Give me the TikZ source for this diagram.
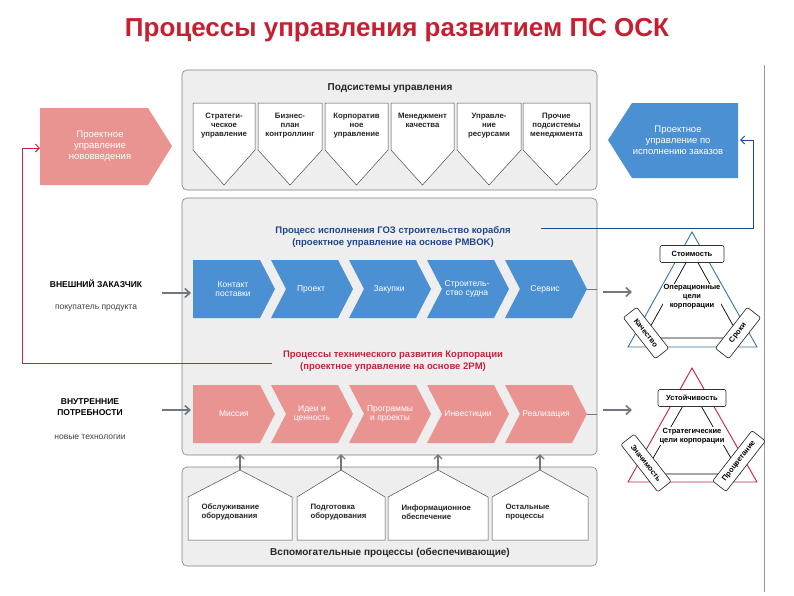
\documentclass[tikz,border=0pt]{standalone}
\usepackage{fontspec}
\setmainfont{Liberation Sans}
\usetikzlibrary{arrows.meta}
\definecolor{ttl}{RGB}{200,30,50}
\definecolor{bfill}{RGB}{74,144,210}
\definecolor{rfill}{RGB}{234,148,146}
\definecolor{dblue}{RGB}{30,70,140}
\definecolor{dred}{RGB}{195,35,60}
\definecolor{boxg}{RGB}{238,238,238}
\definecolor{edg}{RGB}{130,130,130}
\definecolor{arr}{RGB}{110,120,130}
\begin{document}
\begin{tikzpicture}[x=1pt,y=-1pt,
  panel/.style={draw=edg,fill=boxg,rounded corners=5pt,line width=0.6pt},
  wshape/.style={draw=black!70,fill=white,line width=0.5pt},
  lbl/.style={font=\fontsize{7.8}{9}\selectfont\bfseries,align=center,text=black!85},
  chtxt/.style={font=\fontsize{8.5}{9.5}\selectfont,align=center,text=white},
  garr/.style={draw=arr,line width=1.6pt,-{Straight Barb[length=5pt,width=9pt]}},
  tbox/.style={draw=black!80,fill=white,rounded corners=2pt,line width=0.7pt,font=\fontsize{7.5}{8.5}\selectfont\bfseries,minimum height=17pt,inner sep=2pt}]
\useasboundingbox (0,0) rectangle (794,595);
\fill[white] (0,0) rectangle (794,595);
\draw[black!40,line width=0.6pt] (764,65) -- (764,592);
\node[font=\fontsize{26}{30}\selectfont\bfseries,text=ttl] (title) at (397,30) {Процессы управления развитием ПС ОСК};

% top panel
\draw[panel] (182,70) rectangle (597,190);
\node[font=\fontsize{10}{12}\selectfont\bfseries,text=black!85] (ptop) at (390,88) {Подсистемы управления};
\foreach \l/\r/\t [count=\i] in {193/255/{Стратеги-\\ческое\\управление},258/322/{Бизнес-\\план\\контроллинг},325/388/{Корпоратив\\ное\\управление},391/454/{Менеджмент\\качества},457/521/{Управле-\\ние\\ресурсами},523/590/{Прочие\\подсистемы\\менеджмента}}{
  \draw[wshape] (\l,103) -- (\r,103) -- (\r,150) -- ({(\l+\r)/2},185) -- (\l,150) -- cycle;
  \node[lbl,anchor=north] (s\i) at ({(\l+\r)/2},110) {\t};
}

% side pentagons
\fill[rfill] (40,108) -- (148,108) -- (172,146) -- (148,185) -- (40,185) -- cycle;
\node[chtxt,font=\fontsize{9.5}{11}\selectfont] (lp) at (100,146) {Проектное\\управление\\нововведения};
\fill[bfill] (632,103) -- (738,103) -- (738,178) -- (632,178) -- (608,140) -- cycle;
\node[chtxt,font=\fontsize{9.5}{11}\selectfont] (rp) at (678,140) {Проектное\\управление по\\исполнению заказов};
\coordinate (lpin) at (40,148);
\coordinate (rpin) at (740,140);

% middle panel
\draw[panel] (182,198) rectangle (597,455);
\node[font=\fontsize{9.5}{12}\selectfont\bfseries,text=dblue,align=center] (btitle) at (393,237) {Процесс исполнения ГОЗ строительство корабля\\(проектное управление на основе PMBOK)};
\node[font=\fontsize{9.5}{12}\selectfont\bfseries,text=dred,align=center] (rtitle) at (393,361) {Процессы технического развития Корпорации\\(проектное управление на основе 2PM)};

\foreach \t [count=\i from 0] in {{Контакт\\поставки},Проект,Закупки,{Строитель-\\ство судна},Сервис}{
  \pgfmathsetmacro\L{193+78*\i}
  \ifnum\i=0
    \fill[bfill] (\L,260) -- (\L+67,260) -- (\L+82,289) -- (\L+67,318) -- (\L,318) -- cycle;
  \else
    \fill[bfill] (\L,260) -- (\L+67,260) -- (\L+82,289) -- (\L+67,318) -- (\L,318) -- (\L+15,289) -- cycle;
  \fi
  \node[chtxt] (b\i) at (\L+40,289) {\t};
}
\foreach \t [count=\i from 0] in {Миссия,{Идеи и\\ценность},{Программы\\и проекты},Инвестиции,Реализация}{
  \pgfmathsetmacro\L{193+78*\i}
  \ifnum\i=0
    \fill[rfill] (\L,385) -- (\L+67,385) -- (\L+82,414) -- (\L+67,443) -- (\L,443) -- cycle;
  \else
    \fill[rfill] (\L,385) -- (\L+67,385) -- (\L+82,414) -- (\L+67,443) -- (\L,443) -- (\L+15,414) -- cycle;
  \fi
  \node[chtxt] (r\i) at (\L+41,414) {\t};
}

% connector lines
\coordinate (bt) at (541,228);
\draw[dblue,line width=0.9pt,-{Straight Barb[length=4pt,width=8pt]}] (bt) -- (753,228) -- (753,140) -- (rpin);
\coordinate (rt) at (272,363);
\draw[dred,line width=0.9pt,-{Straight Barb[length=4pt,width=8pt]}] (rt) -- (22,363) -- (22,148) -- (lpin);

% left labels
\node[font=\fontsize{8.5}{10}\selectfont\bfseries] (ext) at (96,284) {ВНЕШНИЙ ЗАКАЗЧИК};
\node[font=\fontsize{8.5}{10}\selectfont,text=black!75] (ext2) at (96,308) {покупатель продукта};
\node[font=\fontsize{8.5}{10.5}\selectfont\bfseries,align=center] (int) at (90,407) {ВНУТРЕННИЕ\\ПОТРЕБНОСТИ};
\node[font=\fontsize{8.5}{10}\selectfont,text=black!75] (int2) at (90,437) {новые технологии};
\coordinate (a1s) at (162,293); \coordinate (a1e) at (191,293);
\coordinate (a2s) at (162,410); \coordinate (a2e) at (191,410);
\draw[garr] (a1s) -- (a1e);
\draw[garr] (a2s) -- (a2e);
\coordinate (a3s) at (603,292); \coordinate (a3e) at (632,292);
\coordinate (a4s) at (603,410); \coordinate (a4e) at (632,410);
\draw[garr] (a3s) -- (a3e);
\draw[garr] (a4s) -- (a4e);
\draw[arr,line width=1pt] (587,289) -- (597,289);
\draw[arr,line width=1pt] (587,414) -- (597,414);

% blue triangle
\draw[bfill!80!black,line width=0.9pt] (692,232) -- (757,347) -- (628,347) -- cycle;
\draw[black,line width=0.7pt] (692,252) -- (740,338) -- (644,338) -- cycle;
\node[tbox,minimum width=64pt] (cost) at (692,254) {Стоимость};
\node[font=\fontsize{7.5}{9}\selectfont\bfseries,align=center,fill=white,inner sep=1pt] (opc) at (692,297) {Операционные\\цели\\корпорации};
\node[tbox,minimum width=52pt,rotate=-52] (qual) at (646,333) {Качество};
\node[tbox,minimum width=52pt,rotate=52] (term) at (738,333) {Сроки};

% red triangle
\draw[dred,line width=0.9pt] (692,368) -- (757,482) -- (628,482) -- cycle;
\draw[black,line width=0.7pt] (692,390) -- (740,474) -- (644,474) -- cycle;
\node[tbox,minimum width=68pt] (sust) at (692,398) {Устойчивость};
\node[font=\fontsize{7.5}{9}\selectfont\bfseries,align=center,fill=white,inner sep=1pt] (stc) at (692,436) {Стратегические\\цели корпорации};
\node[tbox,minimum width=60pt,rotate=-52] (sig) at (646,463) {Значимость};
\node[tbox,minimum width=64pt,rotate=52] (pros) at (739,461) {Процветание};

% bottom panel
\draw[panel] (182,467) rectangle (597,566);
\foreach \l/\r/\t [count=\i] in {188/292/{Обслуживание\\оборудования},297/385/{Подготовка\\оборудования},388/488/{Информационное\\обеспечение},492/588/{Остальные\\процессы}}{
  \draw[wshape] (\l,540) -- (\l,497) -- ({(\l+\r)/2},470) -- (\r,497) -- (\r,540) -- cycle;
  \node[lbl,anchor=west,align=left] (h\i) at (\l+10,512) {\t};
  \coordinate (ap\i) at ({(\l+\r)/2},470);
  \coordinate (aq\i) at ({(\l+\r)/2},454);
  \draw[arr,line width=1.4pt,-{Straight Barb[length=4pt,width=8pt]}] (ap\i) -- (aq\i);
}
\node[font=\fontsize{10}{12}\selectfont\bfseries,text=black!85] (bot) at (390,553) {Вспомогательные процессы (обеспечивающие)};
\end{tikzpicture}
\end{document}
